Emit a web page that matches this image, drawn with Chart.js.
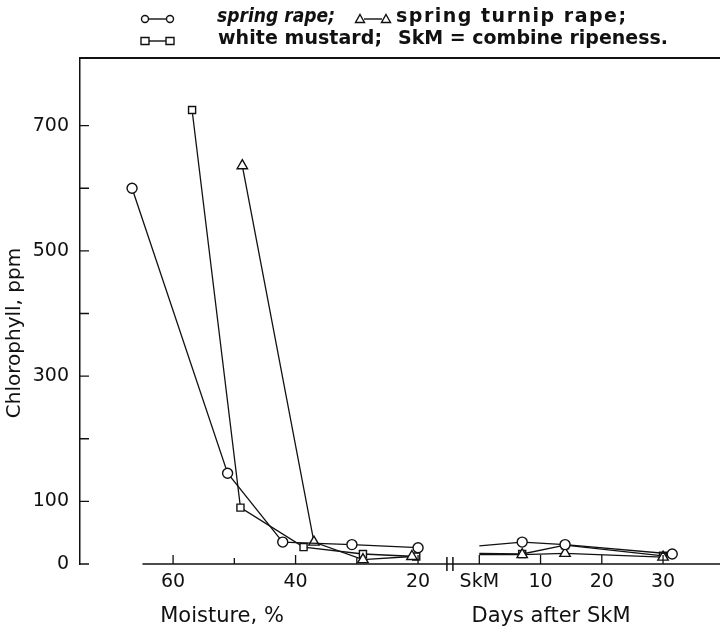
<!DOCTYPE html>
<html>
<head>
<meta charset="utf-8">
<script src="https://cdn.jsdelivr.net/npm/chart.js@4.4.1/dist/chart.umd.min.js"></script>
<style>
    html, body { margin: 0; padding: 0; background: #fff; }
    canvas { display: block; }
</style>
</head>
<body>
<canvas id="chlorophyllChart" width="720" height="634"></canvas>
<script>
// moisture phase (moisture %, chlorophyll ppm)
var rapeMoisture = [66.7, 51.1, 42.1, 30.8, 20];
var rapeMoistureChl = [600, 145, 35, 31, 26];
var turnipMoisture = [48.7, 37, 29, 21];
var turnipMoistureChl = [636, 35, 7, 12];
var mustardMoisture = [56.9, 49, 38.7, 29, 20.3];
var mustardMoistureChl = [725, 90, 27, 16, 12];

// after combine ripeness (days after SkM, chlorophyll ppm)
var rapeDays = [0, 7, 14, 31.5];
var rapeDaysChl = [29, 35, 31, 16];
var turnipDays = [0, 7, 14, 30];
var turnipDaysChl = [15, 15, 17, 11];
var mustardDays = [0, 7, 14, 30];
var mustardDaysChl = [17, 16, 30, 13];

var moistureTicks = [60, 50, 40, 30, 20];
var moistureTickLabels = ["60", "", "40", "", "20"];
var dayTicks = [0, 10, 20, 30];
var dayTickLabels = ["SkM", "10", "20", "30"];
var yTicks = [0, 100, 200, 300, 400, 500, 600, 700];
var yTickLabels = ["0", "100", "", "300", "", "500", "", "700"];

var seriesNames = ["spring rape;", "spring turnip rape;", "white mustard;"];
var noteText = "SkM = combine ripeness.";
var xTitles = ["Moisture, %", "Days after SkM"];
var yTitle = "Chlorophyll, ppm";

// both parts share one x scale: moisture runs right-to-left, days start after the break
var SKM_POS = 70;
var BREAK_POS = 65.2;
function fromMoisture(m) { return 80 - m; }
function fromDays(d) { return SKM_POS + d; }

function buildPoints(m, mv, d, dv) {
    var out = m.map(function (x, i) { return { x: fromMoisture(x), y: mv[i] }; });
    out.push({ x: BREAK_POS, y: null });
    d.forEach(function (x, i) { out.push({ x: fromDays(x), y: dv[i] }); });
    return out;
}

var tickLabelMap = {};
moistureTicks.forEach(function (m, i) { tickLabelMap[fromMoisture(m)] = moistureTickLabels[i]; });
dayTicks.forEach(function (d, i) { tickLabelMap[fromDays(d)] = dayTickLabels[i]; });

var FONT = "'DejaVu Sans', sans-serif";

function markerRadius(base) {
    return function (ctx) {
        return ctx.raw && ctx.raw.x === SKM_POS ? 0 : base;
    };
}

function makeSet(label, points, style, r) {
    return {
        label: label,
        data: points,
        borderColor: "#111",
        borderWidth: 1.3,
        backgroundColor: "#fff",
        pointStyle: style,
        pointRadius: markerRadius(r),
        pointBorderWidth: 1.4,
        pointBorderColor: "#111",
        pointBackgroundColor: "#fff",
        tension: 0,
        spanGaps: false,
    };
}

// draws text starting at x, spread (or squeezed) to roughly the given width
function spreadText(ctx, text, x, y, width) {
    var w = ctx.measureText(text).width;
    if (w > width) {
        ctx.fillText(text, x, y, width);
        return;
    }
    if ("letterSpacing" in ctx && text.length > 1) {
        ctx.letterSpacing = ((width - w) / (text.length - 1)).toFixed(2) + "px";
    }
    ctx.fillText(text, x, y);
    if ("letterSpacing" in ctx) ctx.letterSpacing = "0px";
}

var decorations = {
    id: "decorations",
    afterDraw: function (chart) {
        var ctx = chart.ctx;
        var xs = chart.scales.x;
        var ys = chart.scales.y;
        var area = chart.chartArea;
        var y0 = ys.getPixelForValue(0);
        ctx.save();
        ctx.strokeStyle = "#111";
        ctx.fillStyle = "#111";

        // frame top line
        ctx.lineWidth = 1.8;
        ctx.beginPath();
        ctx.moveTo(area.left, area.top);
        ctx.lineTo(area.right, area.top);
        ctx.stroke();

        // x axis line (starts away from the y axis)
        ctx.lineWidth = 1.5;
        ctx.beginPath();
        ctx.moveTo(xs.getPixelForValue(fromMoisture(65)), y0);
        ctx.lineTo(area.right, y0);
        ctx.stroke();

        // break marks
        var bx = xs.getPixelForValue(BREAK_POS);
        ctx.beginPath();
        ctx.moveTo(bx - 3, y0 - 7); ctx.lineTo(bx - 3, y0 + 7);
        ctx.moveTo(bx + 3, y0 - 7); ctx.lineTo(bx + 3, y0 + 7);
        ctx.stroke();

        // inward ticks
        ctx.lineWidth = 1.3;
        ctx.beginPath();
        yTicks.forEach(function (v) {
            var py = ys.getPixelForValue(v);
            ctx.moveTo(area.left, py);
            ctx.lineTo(area.left + 9, py);
        });
        moistureTicks.forEach(function (m, i) {
            var px = xs.getPixelForValue(fromMoisture(m));
            ctx.moveTo(px, y0);
            ctx.lineTo(px, y0 - (moistureTickLabels[i] ? 9 : 6));
        });
        dayTicks.forEach(function (d) {
            var px = xs.getPixelForValue(fromDays(d));
            ctx.moveTo(px, y0);
            ctx.lineTo(px, y0 - 9);
        });
        ctx.stroke();

        // axis titles
        ctx.font = "21px " + FONT;
        ctx.textBaseline = "middle";
        ctx.textAlign = "center";
        ctx.fillText(xTitles[0], 222, 617);
        ctx.fillText(xTitles[1], 551, 617);
        ctx.save();
        ctx.font = "20px " + FONT;
        ctx.translate(15, 333);
        ctx.rotate(-Math.PI / 2);
        ctx.fillText(yTitle, 0, 0);
        ctx.restore();

        // legend
        function pair(style, x1, x2, y) {
            ctx.lineWidth = 1.4;
            ctx.beginPath();
            ctx.moveTo(x1 + 4, y);
            ctx.lineTo(x2 - 4, y);
            ctx.stroke();
            [x1, x2].forEach(function (x) {
                ctx.beginPath();
                if (style === "circle") {
                    ctx.arc(x, y, 3.5, 0, Math.PI * 2);
                } else if (style === "rect") {
                    ctx.rect(x - 4, y - 3.5, 8, 7);
                } else {
                    ctx.moveTo(x, y - 4.5);
                    ctx.lineTo(x + 4.5, y + 3.5);
                    ctx.lineTo(x - 4.5, y + 3.5);
                    ctx.closePath();
                }
                ctx.stroke();
            });
        }
        ctx.textAlign = "left";
        pair("circle", 145, 170, 19);
        ctx.font = "italic bold 19px " + FONT;
        spreadText(ctx, seriesNames[0], 217, 17, 118);
        pair("triangle", 360, 386, 19);
        ctx.font = "bold 19px " + FONT;
        spreadText(ctx, seriesNames[1], 396, 17, 230);
        pair("rect", 145, 170, 41);
        spreadText(ctx, seriesNames[2], 218, 39, 164);
        spreadText(ctx, noteText, 398, 39, 270);

        ctx.restore();
    },
};

new Chart(document.getElementById("chlorophyllChart").getContext("2d"), {
    type: "line",
    data: {
        datasets: [
            makeSet(seriesNames[0], buildPoints(rapeMoisture, rapeMoistureChl, rapeDays, rapeDaysChl), "circle", 5),
            makeSet(seriesNames[1], buildPoints(turnipMoisture, turnipMoistureChl, turnipDays, turnipDaysChl), "triangle", 6),
            makeSet(seriesNames[2], buildPoints(mustardMoisture, mustardMoistureChl, mustardDays, mustardDaysChl), "rect", 5),
        ],
    },
    options: {
        responsive: false,
        animation: false,
        layout: { autoPadding: false, padding: { top: 58, left: 0, right: 0, bottom: 0 } },
        plugins: {
            legend: { display: false },
            tooltip: { enabled: false },
        },
        scales: {
            x: {
                type: "linear",
                min: 4.8,
                max: 109.3,
                grid: { display: false, drawTicks: false },
                border: { display: false },
                afterBuildTicks: function (scale) {
                    var vals = moistureTicks.map(fromMoisture).concat(dayTicks.map(fromDays));
                    scale.ticks = vals.map(function (v) { return { value: v }; });
                },
                afterFit: function (scale) {
                    scale.height = 70;
                    scale.paddingLeft = 0;
                    scale.paddingRight = 0;
                },
                ticks: {
                    autoSkip: false,
                    maxRotation: 0,
                    padding: 7,
                    color: "#111",
                    font: { family: FONT, size: 19 },
                    callback: function (value) { return tickLabelMap[value] || ""; },
                },
            },
            y: {
                min: 0,
                max: 808,
                grid: { display: false, drawTicks: false },
                border: { display: true, color: "#111", width: 1.5 },
                afterBuildTicks: function (scale) {
                    scale.ticks = yTicks.map(function (v) { return { value: v }; });
                },
                afterFit: function (scale) {
                    scale.width = 80;
                    scale.paddingTop = 0;
                    scale.paddingBottom = 0;
                },
                ticks: {
                    padding: 11,
                    color: "#111",
                    font: { family: FONT, size: 19 },
                    callback: function (value) {
                        var i = yTicks.indexOf(value);
                        return i >= 0 ? yTickLabels[i] : "";
                    },
                },
            },
        },
    },
    plugins: [decorations],
});
</script>
</body>
</html>
